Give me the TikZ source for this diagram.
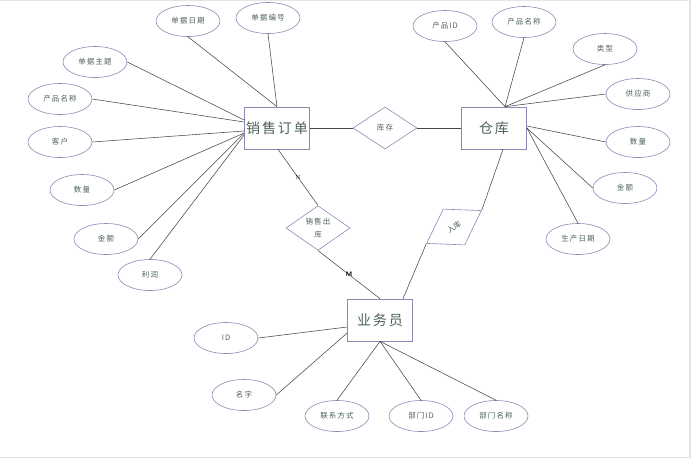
\documentclass[tikz,border=0pt]{standalone}
\usepackage{fontspec}
\usepackage{xcolor}
\usetikzlibrary{shapes.geometric}
\newfontfamily\cjk{Noto Sans CJK SC}
\newfontfamily\cjkwide[LetterSpace=14]{Noto Sans CJK SC}
\definecolor{shapeline}{RGB}{140,136,180}
\definecolor{textgreen}{RGB}{78,98,88}
\definecolor{linkgray}{RGB}{70,70,70}
\definecolor{framegray}{RGB}{228,228,228}

\begin{document}
\begin{tikzpicture}[
  x=1pt, y=-1pt,
  entity/.style = {draw=shapeline, line width=0.7pt, minimum width=65pt,
                   minimum height=42pt, inner sep=0pt, text=textgreen,
                   font=\cjkwide\fontsize{14}{16}\selectfont},
  attr/.style   = {draw=shapeline, ellipse, line width=0.6pt, minimum width=64pt,
                   minimum height=31pt, inner sep=0pt, text=textgreen,
                   font=\cjkwide\fontsize{7.5}{9}\selectfont},
  rel/.style    = {draw=shapeline, diamond, line width=0.6pt, minimum width=64pt,
                   minimum height=42pt, inner sep=0pt, text=textgreen, align=center,
                   font=\cjkwide\fontsize{7.5}{13}\selectfont},
  link/.style   = {draw=linkgray, line width=0.55pt},
  card/.style   = {inner sep=0.5pt, text=black},
]
\useasboundingbox (0,0) rectangle (692,459);
\draw[framegray, line width=1.2pt] (0,0.6) -- (690,0.6) -- (690,457.5) -- (0,457.5);

% Entities
\node[entity] (so) at (277,128) {销售订单};
\node[entity] (ck) at (494,128) {仓库};
\node[entity] (yw) at (380,320) {业务员};

% Relations
\node[rel] (kc) at (385,128) {库存};
\node[rel] (sc) at (318,228) {销售出\\库};
\node[rel, rotate=31, font=\cjk\fontsize{7.5}{9}\selectfont] (rk) at (454,227) {入库};

% Attributes of 销售订单
\node[attr] (a1) at (188,21)  {单据日期};
\node[attr] (a2) at (268,18)  {单据编号};
\node[attr] (a3) at (95,62)   {单据主题};
\node[attr] (a4) at (60,99)   {产品名称};
\node[attr] (a5) at (60,142)  {客户};
\node[attr] (a6) at (82,190)  {数量};
\node[attr] (a7) at (106,239) {金额};
\node[attr] (a8) at (150,275) {利润};

% Attributes of 仓库
\node[attr] (b1) at (445,26)  {产品ID};
\node[attr] (b2) at (524,22)  {产品名称};
\node[attr] (b3) at (605,49)  {类型};
\node[attr] (b4) at (638,94)  {供应商};
\node[attr] (b5) at (638,142) {数量};
\node[attr] (b6) at (625,188) {金额};
\node[attr] (b7) at (578,239) {生产日期};

% Attributes of 业务员
\node[attr] (c1) at (226,338) {ID};
\node[attr] (c2) at (244,395) {名字};
\node[attr] (c3) at (337,416) {联系方式};
\node[attr] (c4) at (421,416) {部门ID};
\node[attr] (c5) at (496,416) {部门名称};

% Attribute links
\draw[link] (a1.south) -- (so.north);
\draw[link] (a2.south) -- (so.north);
\draw[link] (a3.east) -- ([yshift=8pt]so.west);
\draw[link] (a4.east) -- ([yshift=6pt]so.west);
\draw[link] (a5.east) -- ([yshift=-3pt]so.west);
\draw[link] (a6.east) -- ([yshift=-5pt]so.west);
\draw[link] (a7.east) -- ([yshift=-5pt]so.west);
\draw[link] (a8.north) -- ([yshift=-7pt]so.west);

\draw[link] (b1.south) -- ([xshift=11pt]ck.north);
\draw[link] (b2.south) -- ([xshift=11pt]ck.north);
\draw[link] (b3.south) -- ([xshift=11pt]ck.north);
\draw[link] (b4.west)  -- ([xshift=11pt]ck.north);
\draw[link] (b5.west)  -- ([yshift=2pt]ck.east);
\draw[link] (b6.west)  -- (ck.east);
\draw[link] (b7.north) -- (ck.east);

\draw[link] (c1.east)  -- ([yshift=-7pt]yw.west);
\draw[link] (c2.east)  -- ([yshift=-13pt]yw.west);
\draw[link] (c3.north) -- (yw.south);
\draw[link] (c4.north) -- (yw.south);
\draw[link] (c5.north) -- (yw.south);

% Relation links
\draw[link] (so.east) -- (kc.west);
\draw[link] (kc.east) -- (ck.west);
\draw[link] ([xshift=1pt]so.south) -- (sc.north)
  node[card, pos=0.5, font=\fontsize{6}{7}\selectfont] {N};
\draw[link] (sc.south) -- (yw.north)
  node[card, pos=0.5, font=\sffamily\bfseries\fontsize{6.5}{7}\selectfont] {M};
\draw[link] ([xshift=9pt]ck.south) -- (rk.east);
\draw[link] (rk.west) -- ([xshift=23pt]yw.north);

\end{tikzpicture}
\end{document}
